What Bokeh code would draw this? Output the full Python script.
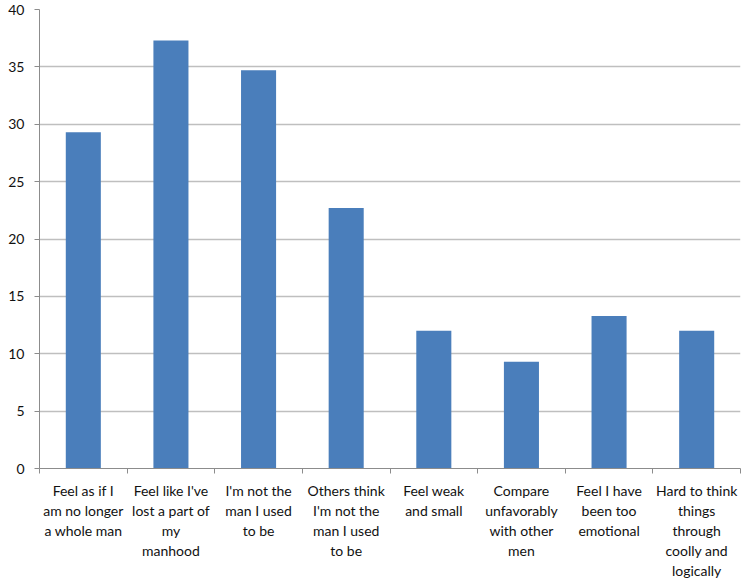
from bokeh.plotting import figure
from bokeh.models import Range1d, FixedTicker
from bokeh.embed import file_html
from bokeh.resources import INLINE

categories = [
    "Feel as if I\nam no longer\na whole man",
    "Feel like I've\nlost a part of\nmy\nmanhood",
    "I'm not the\nman I used\nto be",
    "Others think\nI'm not the\nman I used\nto be",
    "Feel weak\nand small",
    "Compare\nunfavorably\nwith other\nmen",
    "Feel I have\nbeen too\nemotional",
    "Hard to think\nthings\nthrough\ncoolly and\nlogically",
]
values = [29.3, 37.3, 34.7, 22.7, 12.0, 9.3, 13.3, 12.0]
y_ticks = [0, 5, 10, 15, 20, 25, 30, 35, 40]

xs = list(range(1, len(categories) + 1))

p = figure(width=749, height=582, output_backend="svg", toolbar_location=None,
           x_range=Range1d(0.5, len(categories) + 0.5), y_range=Range1d(0, 40),
           min_border_top=9, min_border_right=9, min_border_left=39, min_border_bottom=113)
p.outline_line_color = None
p.background_fill_color = "white"

p.vbar(x=xs, top=values, width=0.4, fill_color="#4a7ebb", line_color=None)

FONT = "Lato"
# x axis
p.xaxis.ticker = FixedTicker(ticks=xs, minor_ticks=[x - 0.5 for x in xs] + [len(xs) + 0.5])
p.xaxis.major_label_overrides = {x: c for x, c in zip(xs, categories)}
p.xaxis.major_tick_out = 0
p.xaxis.major_tick_in = 0
p.xaxis.minor_tick_out = 5
p.xaxis.minor_tick_in = 0
p.xaxis.minor_tick_line_color = "#8c8c8c"
p.xaxis.axis_line_color = "#8c8c8c"
p.xaxis.major_label_text_font = FONT
p.xaxis.major_label_text_font_size = "14px"
p.xaxis.major_label_text_color = "#111111"
p.xaxis.major_label_text_line_height = 1.19
p.xaxis.major_label_standoff = 8
p.xaxis.major_label_text_align = "center"

# y axis
p.yaxis.ticker = FixedTicker(ticks=y_ticks)
p.yaxis.minor_tick_line_color = None
p.yaxis.major_tick_out = 5
p.yaxis.major_tick_in = 0
p.yaxis.major_tick_line_color = "#8c8c8c"
p.yaxis.axis_line_color = "#8c8c8c"
p.yaxis.major_label_text_font = FONT
p.yaxis.major_label_text_font_size = "14px"
p.yaxis.major_label_text_color = "#111111"
p.yaxis.major_label_standoff = 10

p.xgrid.grid_line_color = None
p.ygrid.grid_line_color = "#bfbfbf"
p.ygrid.grid_line_width = 1.5

open("out.html", "w").write(file_html(p, INLINE))
